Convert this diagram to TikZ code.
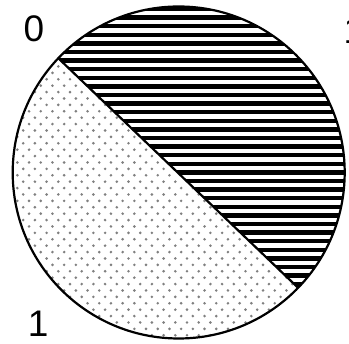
\documentclass[tikz,border=0pt]{standalone}
\usepackage{fontspec}
\setmainfont{Liberation Sans}
\tikzset{
  lbl/.style={inner sep=0pt, anchor=base west, font=\fontsize{37}{37}\selectfont},
  stripe/.style={line width=4.4pt, black},
  dotfill/.style={fill=black!50},
  outline/.style={line width=2.2pt, black}
}
\begin{document}
\begin{tikzpicture}[x=1pt,y=1pt]
\useasboundingbox (0,0) rectangle (349,344);
\clip (0,0) rectangle (349,344);
\coordinate (c) at (178.7,171.5);
\def\R{166}
\path (c) ++(136.5:\R) coordinate (a);
\path (c) ++(-44:\R) coordinate (b);
% striped upper part
\begin{scope}
  \clip (a) arc[start angle=136.5, end angle=-44, radius=\R] -- cycle;
  \foreach \i in {-10,...,40} {
    \draw[stripe] (0,{274.7-8.6*\i}) -- (349,{274.7-8.6*\i});
  }
\end{scope}
% dotted lower part
\begin{scope}
  \clip (b) arc[start angle=-44, end angle=-223.5, radius=\R] -- cycle;
  \foreach \j in {-27,...,28} {
    \foreach \i in {-7,...,24} {
      \fill[dotfill] ({70+11.7*\i+5.85*mod(\j+100,2)},{162.3+6.4*\j}) circle (1.45);
    }
  }
\end{scope}
% outline and chord
\draw[outline] (c) circle (\R);
\draw[outline] (a) -- (b);
% labels
\node[lbl] (l0) at (23.4,302.7) {0};
\node[lbl] (l1b) at (27.7,7.3) {1};
\node[lbl] (l1t) at (343.5,300) {1};
\end{tikzpicture}
\end{document}
